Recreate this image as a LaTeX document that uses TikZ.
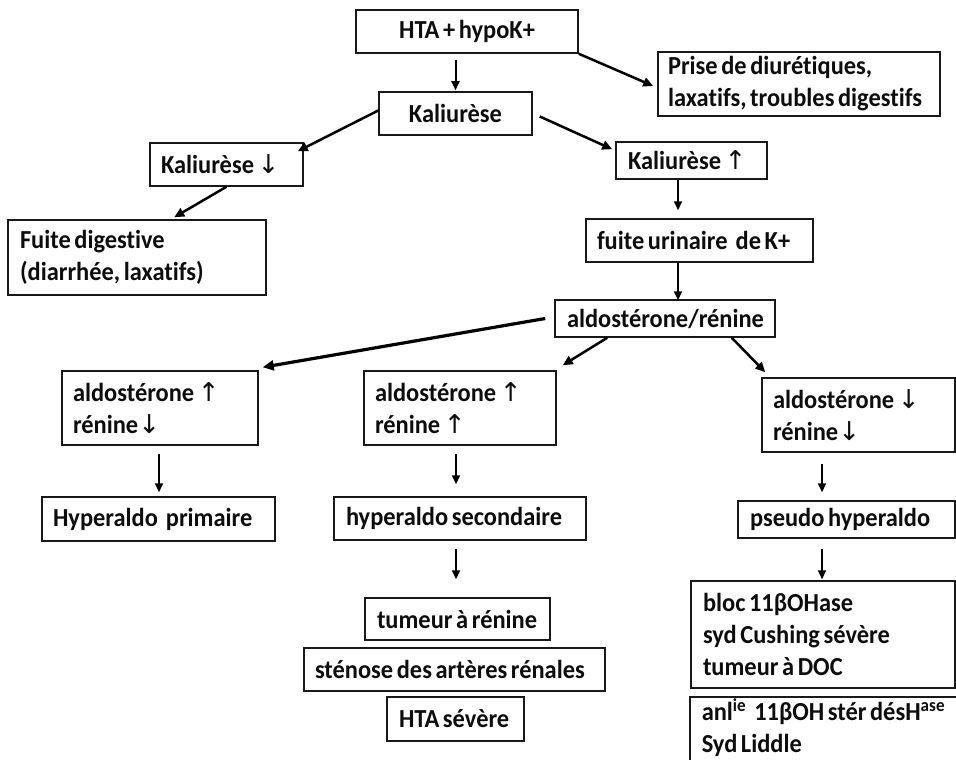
\documentclass[tikz,border=0pt]{standalone}
\usepackage{fontspec}
\setmainfont{Carlito}[Ligatures=NoCommon, FakeStretch=0.94]
\newfontfamily\arrf{DejaVu Sans}
\usetikzlibrary{arrows.meta,calc}
\newcommand\ArU{{\arrf\mdseries\fontsize{26}{32}\selectfont ↑}}
\newcommand\ArD{{\arrf\mdseries\fontsize{26}{32}\selectfont ↓}}
\begin{document}
\begin{tikzpicture}[x=1pt,y=-1pt,
  box/.style={draw=black!90, line width=1.5pt, inner ysep=0pt, text=black!95,
    font=\fontsize{26}{32}\selectfont\bfseries,
    execute at begin node={\spaceskip=3.6pt\relax}},
  va/.style={line width=2pt, -{Triangle[length=9pt,width=8pt]}},
  da/.style={line width=2.5pt, -{Triangle[length=10pt,width=9pt]}},
  wa/.style={line width=3.2pt, -{Triangle[length=11pt,width=10pt]}}]
\useasboundingbox (0,0) rectangle (956,760);
% nodes
\node[box, align=center, minimum width=222pt, minimum height=43pt, inner xsep=11pt, text width=200pt] (hta) at (467,31.5) {\mbox{HTA + hypoK+}};
\node[box, align=left, minimum width=282pt, minimum height=64pt, inner xsep=10pt, text width=262pt] (prise) at (799,84) {\mbox{Prise de diurétiques,}\\\mbox{laxatifs, troubles digestifs}};
\node[box, align=center, minimum width=153pt, minimum height=43pt, inner xsep=11pt, text width=131pt] (kal) at (455.5,113.5) {Kaliurèse};
\node[box, align=left, minimum width=153pt, minimum height=43pt, inner xsep=11pt, text width=131pt] (kd) at (226.5,164.5) {\mbox{Kaliurèse \ArD}};
\node[box, align=left, minimum width=258pt, minimum height=75pt, inner xsep=12pt, text width=234pt] (fd) at (137,257.5) {\mbox{Fuite digestive}\\\mbox{(diarrhée, laxatifs)}};
\node[box, align=left, minimum width=151pt, minimum height=37pt, inner xsep=12pt, text width=127pt] (ku) at (691.5,160.5) {\mbox{Kaliurèse \ArU}};
\node[box, align=left, minimum width=227pt, minimum height=43pt, inner xsep=11pt, text width=205pt] (fu) at (699.5,240.5) {\mbox{fuite urinaire\hspace{8pt}de K+}};
\node[box, align=left, minimum width=220pt, minimum height=37pt, inner xsep=12pt, text width=196pt] (ar) at (665,318.5) {\mbox{aldostérone/rénine}};
\node[box, align=left, minimum width=196pt, minimum height=74pt, inner xsep=11pt, text width=174pt] (al) at (160,408) {\mbox{aldostérone \ArU}\\\mbox{rénine\ArD}};
\node[box, align=left, minimum width=192pt, minimum height=74pt, inner xsep=11pt, text width=170pt] (am) at (460,408) {\mbox{aldostérone \ArU}\\\mbox{rénine \ArU}};
\node[box, align=left, minimum width=193pt, minimum height=74pt, inner xsep=11pt, text width=171pt] (ad) at (858.5,415) {\mbox{aldostérone \ArD}\\\mbox{rénine\ArD}};
\node[box, align=left, minimum width=233pt, minimum height=44pt, inner xsep=11pt, text width=211pt] (hp) at (158.5,519) {\mbox{Hyperaldo\hspace{8pt}primaire}};
\node[box, align=left, minimum width=252pt, minimum height=43pt, inner xsep=12pt, text width=228pt] (hs) at (460,518.5) {\mbox{hyperaldo secondaire}};
\node[box, align=left, minimum width=185pt, minimum height=42pt, inner xsep=12pt, text width=161pt] (tr) at (457.5,619) {\mbox{tumeur à rénine}};
\node[box, align=left, minimum width=301pt, minimum height=43pt, inner xsep=11pt, text width=279pt] (st) at (454.5,669.5) {\mbox{sténose des artères rénales}};
\node[box, align=left, minimum width=137pt, minimum height=44pt, inner xsep=12pt, text width=113pt] (hts) at (455.5,719) {\mbox{HTA sévère}};
\node[box, align=left, minimum width=217pt, minimum height=37pt, inner xsep=12pt, text width=193pt] (ph) at (846.5,519.5) {\mbox{pseudo hyperaldo}};
\node[box, align=left, minimum width=264pt, minimum height=107pt, inner xsep=12pt, text width=240pt] (bl) at (823,634.5) {\mbox{bloc 11βOHase}\\\mbox{syd Cushing sévère}\\\mbox{tumeur à DOC}};
\node[box, align=left, anchor=north west, minimum width=300pt, inner xsep=12pt, inner ysep=2pt, text width=276pt] (an) at (689,696) {\mbox{anl\textsuperscript{ie}\hspace{8pt}11βOH stér désH\textsuperscript{ase}}\\\mbox{Syd Liddle}\\\mbox{}};
% connectors
\draw[va] ($(kal.north |- hta.south)+(0,6)$) -- ($(kal.north)+(0,-1)$);
\draw[da] (hta.south east) -- ($(prise.west)+(-4,2)$);
\draw[da] ($(kal.west)+(0,-3)$) -- ($(kd.north east)+(-6,9)$);
\draw[da] (kd.south) -- ($(fd.north west)+(167,-2)$);
\draw[da] ($(kal.east)+(7,3)$) -- ($(ku.north west)+(-3,8)$);
\draw[va] ($(ku.south)+(-13.5,0)$) -- ($(fu.north)+(-21.5,-8)$);
\draw[va] ($(fu.south)+(-21.5,0)$) -- ($(ar.north)+(13,1)$);
\draw[wa] ($(ar.west)+(-9,0)$) -- ($(al.north east)+(4,-3)$);
\draw[da] ($(ar.south west)+(53,0)$) -- ($(am.north east)+(6,-5)$);
\draw[da] ($(ar.south east)+(-44,0)$) -- ($(ad.north west)+(4,-5)$);
\draw[va] ($(al.south)+(-1,8)$) -- ($(hp.north)+(0.5,-4)$);
\draw[va] ($(am.south)+(-4,8)$) -- ($(hs.north)+(-4,-12)$);
\draw[va] ($(hs.south)+(-4,8)$) -- ($(tr.north)+(-1.5,-18)$);
\draw[va] ($(ad.south)+(-36.5,11)$) -- ($(ph.north)+(-24.5,-8)$);
\draw[va] ($(ph.south)+(-24.5,10)$) -- ($(bl.north)+(-1,-1)$);
\end{tikzpicture}
\end{document}
